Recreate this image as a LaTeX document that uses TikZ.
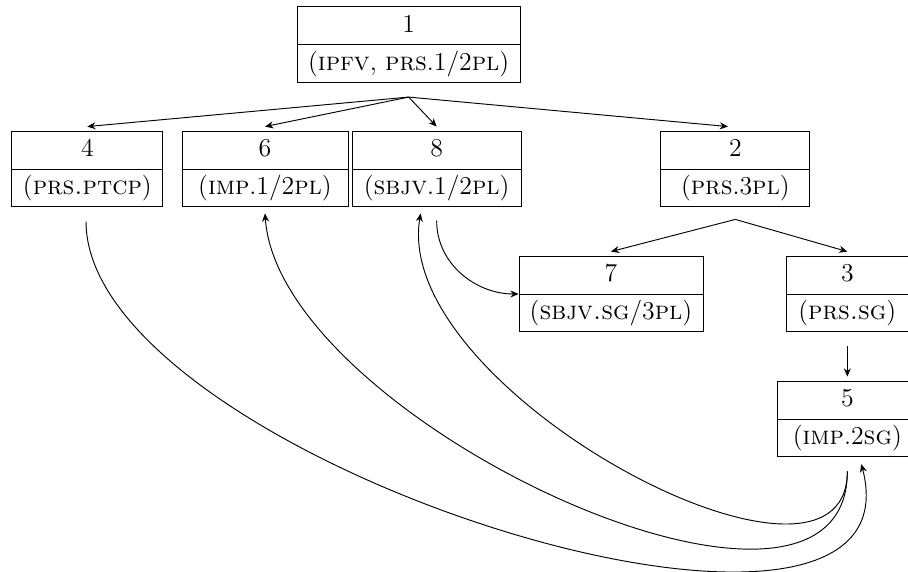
\documentclass[tikz,border=0pt]{standalone}
\usetikzlibrary{shapes.multipart,arrows.meta}
\begin{document}
\begin{tikzpicture}[
    cell/.style={rectangle split, rectangle split parts=2, draw=black, thin,
      inner xsep=4pt, inner ysep=1.1pt, font=\fontsize{11}{13.6}\selectfont},
    edge/.style={thin,-{Stealth[length=3.5pt,width=3pt]}}
  ]
  \useasboundingbox (0,0) rectangle (13.62,8.58);

  % the boxes
  \node[cell,minimum width=3.345cm] (n1) at (6.13,7.91) {\strut 1\nodepart{two}\strut(\textsc{ipfv}, \textsc{prs}.1/2\textsc{pl})};
  \node[cell,minimum width=2.265cm] (n4) at (1.31,6.045) {\strut 4\nodepart{two}\strut(\textsc{prs.ptcp})};
  \node[cell,minimum width=2.49cm] (n6) at (3.975,6.045) {\strut 6\nodepart{two}\strut(\textsc{imp}.1/2\textsc{pl})};
  \node[cell,minimum width=2.535cm] (n8) at (6.55,6.045) {\strut 8\nodepart{two}\strut(\textsc{sbjv}.1/2\textsc{pl})};
  \node[cell,minimum width=2.235cm] (n2) at (11.03,6.045) {\strut 2\nodepart{two}\strut(\textsc{prs}.3\textsc{pl})};
  \node[cell,minimum width=2.76cm] (n7) at (9.165,4.17) {\strut 7\nodepart{two}\strut(\textsc{sbjv.sg}/3\textsc{pl})};
  \node[cell,minimum width=1.83cm] (n3) at (12.71,4.17) {\strut 3\nodepart{two}\strut(\textsc{prs.sg})};
  \node[cell,minimum width=2.1cm] (n5) at (12.71,2.295) {\strut 5\nodepart{two}\strut(\textsc{imp}.2\textsc{sg})};

  % branching points below the parents
  \coordinate (b1) at ([yshift=-0.21cm]n1.south);
  \coordinate (b2) at ([yshift=-0.18cm]n2.south);

  \draw[edge] (b1) -- ([yshift=0.06cm]n4.north);
  \draw[edge] (b1) -- ([yshift=0.06cm]n6.north);
  \draw[edge] (b1) -- ([yshift=0.06cm]n8.north);
  \draw[edge] (b1) -- ([xshift=-0.11cm,yshift=0.06cm]n2.north);
  \draw[edge] (b2) -- ([yshift=0.06cm]n7.north);
  \draw[edge] (b2) -- ([yshift=0.06cm]n3.north);
  \draw[edge] ([yshift=-0.21cm]n3.south) -- ([yshift=0.06cm]n5.north);

  % the long arcs
  \draw[edge] ([yshift=-0.2cm]n8.south) to[out=-90,in=180] (n7.text split west);
  \draw[edge] ([xshift=-0.02cm,yshift=-0.21cm]n4.south) .. controls +(0,-3.6) and +(1.0,-3.85) .. ([xshift=0.21cm,yshift=-0.1cm]n5.south);
  \draw[edge] ([yshift=-0.21cm]n5.south) .. controls +(0,-3.15) and +(0.21,-3.12) .. ([yshift=-0.09cm]n6.south);
  \draw[edge] ([yshift=-0.21cm]n5.south) .. controls +(0,-2.4) and +(-0.45,-2.67) .. ([xshift=-0.24cm,yshift=-0.09cm]n8.south);
\end{tikzpicture}
\end{document}
